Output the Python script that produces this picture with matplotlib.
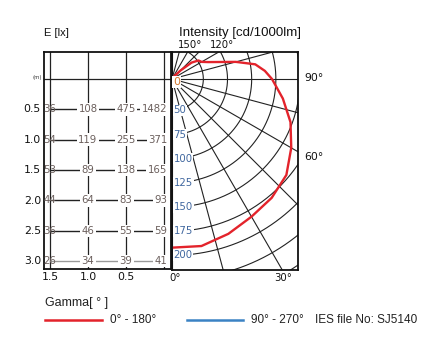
import numpy as np
import matplotlib
matplotlib.use('Agg')
import matplotlib.pyplot as plt
from matplotlib.lines import Line2D

W, H = 432, 363

# illuminance table E [lx]
dist_rows = [0.5, 1.0, 1.5, 2.0, 2.5, 3.0]
offsets = [1.5, 1.0, 0.5, 0.0]
illum = [[36, 108, 475, 1482],
         [54, 119, 255, 371],
         [53, 89, 138, 165],
         [44, 64, 83, 93],
         [36, 46, 55, 59],
         [26, 34, 39, 41]]
row_labels = ['0.5', '1.0', '1.5', '2.0', '2.5', '3.0']
col_labels = ['1.5', '1.0', '0.5']

# polar intensity curve, plane 0-180
gamma_deg = [0, 10, 20, 30, 40, 50, 60, 70, 80, 90, 95, 100, 105, 110,
             115, 120, 125, 130, 135, 140, 150, 160, 170, 180]
c0_180 = [192, 193, 188, 182, 178, 172, 160, 148, 134, 121, 114, 105, 86, 69,
          59, 53, 51, 44, 30, 22, 0, 0, 0, 0]
ring_values = [50, 75, 100, 125, 150, 175, 200]
extra_rings = [225, 250, 275]

RED = '#e3232b'
BLUE = '#3b82c4'
NUM = '#6b5f5c'
LAB = '#40679f'
SANS = ['Liberation Sans', 'DejaVu Sans']

K = 0.967      # px per cd
V0 = 17.6      # cd at the centre


def fx(x):
    return x / W


def fy(y):
    return 1 - y / H


fig = plt.figure(figsize=(W / 100, H / 100), dpi=100)

# ---- left panel: table
ax1 = fig.add_axes([fx(44), fy(269), 127 / W, 217 / H])
ax1.set_xlim(1.579, -0.092)
ax1.set_ylim(3.13, -0.444)
ax1.set_xticks([])
ax1.set_yticks([])
for s in ax1.spines.values():
    s.set_linewidth(1.3)
    s.set_color('#111')

for o in offsets:
    ax1.axvline(o, color='#222', lw=0.9, zorder=1)
ax1.axhline(0, color='#222', lw=0.9, zorder=1, clip_on=False)

for i, d in enumerate(dist_rows):
    col = '#999' if d == 3.0 else '#222'
    ax1.plot([offsets[0], offsets[-1]], [d, d], color=col, lw=1.0, zorder=1)
    for j, o in enumerate(offsets):
        kw = dict(fontsize=7.3, color=NUM, va='center', zorder=3)
        if j > 0:
            kw['bbox'] = dict(boxstyle='square,pad=0.12', fc='white', ec='none')
        if j == len(offsets) - 1:
            ax1.text(-0.04, d, str(illum[i][j]), ha='right', **kw)
        else:
            ax1.text(o, d, str(illum[i][j]), ha='center', **kw)

for lab, d in zip(row_labels, dist_rows):
    fig.text(fx(41), fy(52 + (d + 0.444) * 60.8), lab, ha='right', va='center',
             fontsize=7.8, color='#111')
fig.text(fx(37), fy(78), '(m)', ha='center', va='center', fontsize=3.8, color='#333')
for lab, o in zip(col_labels, offsets):
    fig.text(fx(44 + (1.579 - o) * 76), fy(277), lab, ha='center', va='center',
             fontsize=7.8, color='#111')
fig.text(fx(44), fy(33), 'E [lx]', ha='left', va='center', fontsize=8, color='#111',
         family=SANS)

# ---- right panel: polar diagram
ax2 = fig.add_axes([fx(172), fy(270), 126 / W, 218 / H])
ax2.set_xlim(0, 126 / K)
ax2.set_ylim(-191 / K, 27 / K)
ax2.set_xticks([])
ax2.set_yticks([])
for s in ax2.spines.values():
    s.set_linewidth(1.3)
    s.set_color('#111')

R = 400
for a in range(0, 181, 15):
    t = np.radians(a)
    ax2.plot([0, R * np.sin(t)], [0, -R * np.cos(t)], color='#222', lw=0.8, zorder=1)

tt = np.linspace(0, np.pi, 300)
for v in ring_values + extra_rings:
    r = v - V0
    ax2.plot(r * np.sin(tt), -r * np.cos(tt), color='#222', lw=0.8, zorder=1)

g = np.radians(gamma_deg)
rr = np.clip(np.array(c0_180, dtype=float) - V0, 0, None)
ax2.plot(rr * np.sin(g), -rr * np.cos(g), color=RED, lw=1.7, zorder=2)

ax2.text(1.2, -3.2, '0', ha='left', va='center', fontsize=8, color='#d0762c', zorder=5,
         bbox=dict(boxstyle='square,pad=0.08', fc='white', ec='none'))
for v in ring_values:
    ax2.text(1.5, -(v - V0), str(v), ha='left', va='center', fontsize=7.3, color=LAB,
             zorder=3, bbox=dict(boxstyle='square,pad=0.08', fc='white', ec='none'))

fig.text(fx(190), fy(45), '150°', ha='center', va='center', fontsize=7.3, color='#111')
fig.text(fx(222), fy(45), '120°', ha='center', va='center', fontsize=7.3, color='#111')
fig.text(fx(304), fy(78), '90°', ha='left', va='center', fontsize=7.8, color='#111')
fig.text(fx(304), fy(157), '60°', ha='left', va='center', fontsize=7.8, color='#111')
fig.text(fx(175), fy(278), '0°', ha='center', va='center', fontsize=7.3, color='#111')
fig.text(fx(283), fy(278), '30°', ha='center', va='center', fontsize=7.3, color='#111')
fig.text(fx(240), fy(33), 'Intensity [cd/1000lm]', ha='center', va='center',
         fontsize=9.5, color='#111', family=SANS)

# ---- legend
fig.text(fx(45), fy(303), 'Gamma[ ° ]', ha='left', va='center', fontsize=9,
         color='#222', family=SANS)
fig.add_artist(Line2D([fx(45), fx(102)], [fy(320), fy(320)], color=RED, lw=1.8))
fig.text(fx(110), fy(320), '0° - 180°', ha='left', va='center', fontsize=8.5,
         color='#222', family=SANS)
fig.add_artist(Line2D([fx(187), fx(243)], [fy(320), fy(320)], color=BLUE, lw=1.8))
fig.text(fx(251), fy(320), '90° - 270°', ha='left', va='center', fontsize=8.5,
         color='#222', family=SANS)
fig.text(fx(315), fy(320), 'IES file No: SJ5140', ha='left', va='center',
         fontsize=8.5, color='#222', family=SANS)

fig.savefig('out.png', dpi=100)
